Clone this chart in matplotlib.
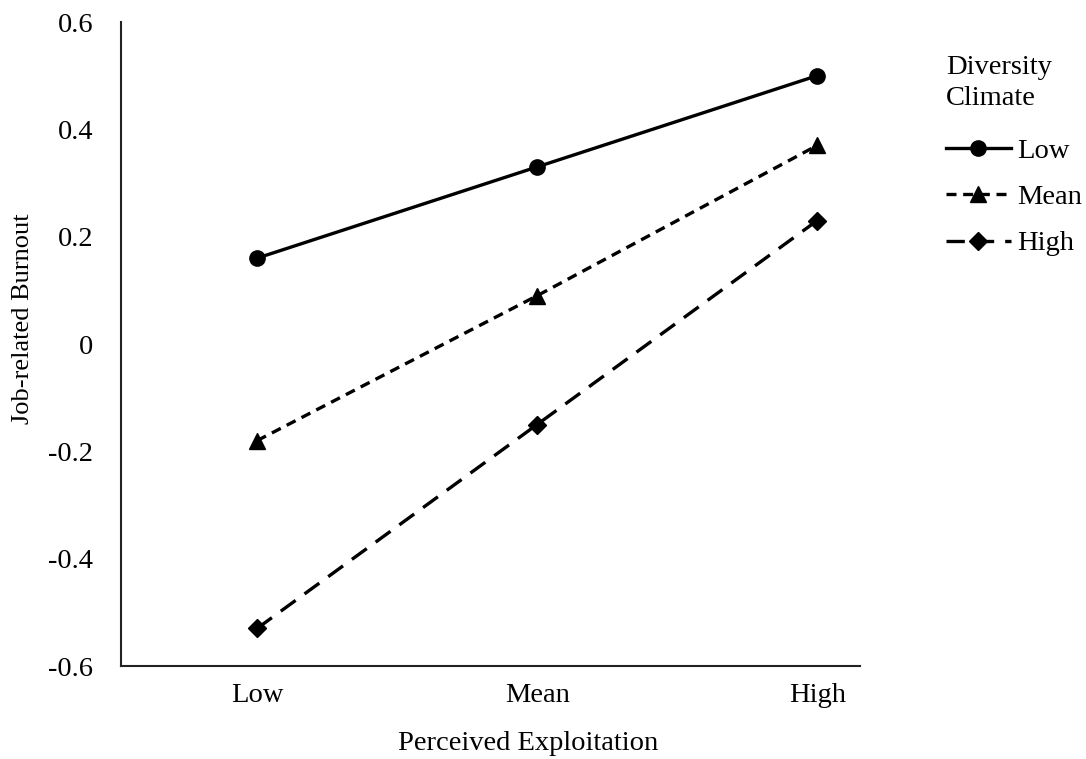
"""
Interaction plot: job-related burnout by perceived exploitation and diversity climate.
"""
import numpy as np
import matplotlib
matplotlib.use("Agg")
import matplotlib.pyplot as plt

# data
categories = ["Low", "Mean", "High"]
series_names = ["Low", "Mean", "High"]
low_climate = [0.16, 0.33, 0.50]
mean_climate = [-0.18, 0.09, 0.37]
high_climate = [-0.53, -0.15, 0.23]
y_ticks = [-0.6, -0.4, -0.2, 0, 0.2, 0.4, 0.6]
y_tick_labels = ["-0.6", "-0.4", "-0.2", "0", "0.2", "0.4", "0.6"]

plt.rcParams['font.family'] = ['Liberation Serif', 'DejaVu Serif']
fs = 20.5

fig = plt.figure(figsize=(10.86, 7.59), dpi=100)
ax = fig.add_axes([0.1114, 0.1225, 0.6805, 0.8485])

x = np.arange(len(categories))
styles = [
    dict(linestyle='-', marker='o', markersize=11),
    dict(linestyle=(0, (3.0, 2.0)), marker='^', markersize=11),
    dict(linestyle=(0, (5.5, 3.3)), marker='D', markersize=9),
]
for vals, name, st in zip([low_climate, mean_climate, high_climate], series_names, styles):
    ax.plot(x, vals, color='black', linewidth=2.4, label=name, **st)

ax.set_xlim(-0.486, 2.153)
ax.set_ylim(-0.6, 0.6)
ax.set_xticks(x)
ax.set_xticklabels(categories)
ax.set_yticks(y_ticks)
ax.set_yticklabels(y_tick_labels)
ax.tick_params(axis='both', length=0, labelsize=fs)
ax.tick_params(axis='y', pad=20)
ax.tick_params(axis='x', pad=12)

for side in ['top', 'right']:
    ax.spines[side].set_visible(False)
for side in ['left', 'bottom']:
    ax.spines[side].set_linewidth(1.5)
    ax.spines[side].set_color('#222222')

ax.set_xlabel('Perceived Exploitation', fontsize=fs)
ax.set_ylabel('Job-related Burnout', fontsize=19)
ax.xaxis.set_label_coords(0.551, -0.101)
ax.yaxis.set_label_coords(-0.118, 0.54)

leg = ax.legend(title='Diversity\nClimate', loc='upper left', bbox_to_anchor=(1.116, 0.949),
                frameon=False, fontsize=fs, title_fontsize=fs, handlelength=2.3,
                handletextpad=0.2, labelspacing=0.72, borderaxespad=0, borderpad=0)
leg._legend_box.align = 'left'
leg._legend_box.sep = 0.72 * fs + 4.5
leg.get_title().set_linespacing(1.32)

fig.savefig('out.png', dpi=100)
